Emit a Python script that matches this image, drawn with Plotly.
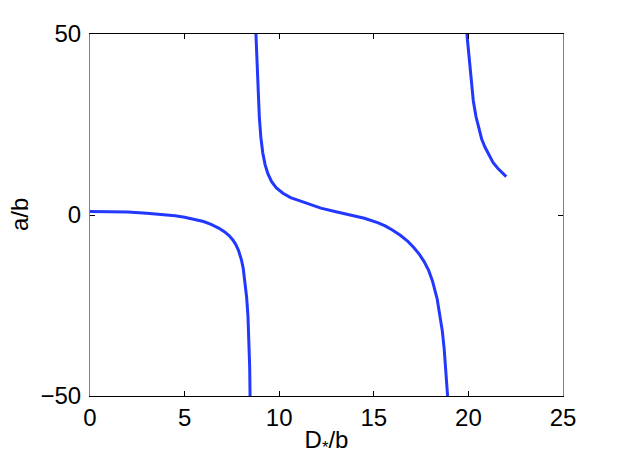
import plotly.graph_objects as go

# branch left of the first pole
x_b1 = [0, 1, 2, 3, 4, 4.5, 5, 5.5, 6, 6.4, 6.8, 7.1, 7.35, 7.55, 7.7, 7.85, 8.0, 8.1, 8.2, 8.28, 8.35, 8.4, 8.44, 8.46]
y_b1 = [1.0, 0.95, 0.8, 0.5, 0.1, -0.2, -0.6, -1.1, -1.8, -2.6, -3.6, -4.6, -5.7, -6.9, -8.1, -9.8, -12.3, -14.8, -18.5, -22.8, -28, -34, -42, -50]

# branch between the two poles
x_b2 = [8.77, 8.82, 8.88, 8.95, 9.03, 9.13, 9.25, 9.4, 9.6, 9.85, 10.2, 10.6, 11.1, 11.6, 12.2, 13.0, 13.8,
        14.5, 15.2, 15.6, 16.0, 16.4, 16.8, 17.1, 17.4, 17.65, 17.9, 18.1, 18.35, 18.5, 18.62, 18.72, 18.8, 18.86, 18.9]
y_b2 = [50, 42, 34, 27, 21.5, 17.2, 14.0, 11.4, 9.2, 7.5, 6.0, 4.8, 3.9, 3.0, 1.9, 0.9, 0,
        -0.9, -2.1, -3.0, -4.2, -5.6, -7.3, -8.9, -10.8, -12.8, -15.3, -18.2, -23.2, -27.5, -32, -37, -42, -46.5, -50]

# branch right of the second pole
x_b3 = [19.92, 20.0, 20.08, 20.17, 20.26, 20.4, 20.52, 20.7, 20.88, 21.1, 21.3, 21.55, 21.8, 22.0]
y_b3 = [50, 45.5, 41.9, 35.5, 31.5, 27.2, 24.4, 21.0, 18.7, 16.3, 14.5, 12.9, 11.6, 10.6]

x_ticks = [0, 5, 10, 15, 20, 25]
y_ticks = [-50, 0, 50]

LINE = '#2238ff'
FONT = dict(family='Liberation Sans, Arial, Helvetica, sans-serif', size=24, color='black')

fig = go.Figure()
for xs, ys in [(x_b1, y_b1), (x_b2, y_b2), (x_b3, y_b3)]:
    fig.add_trace(go.Scatter(x=xs, y=ys, mode='lines', line=dict(color=LINE, width=3), showlegend=False))

# page body adds 8px around the figure, so the figure is 8px smaller than the window
fig.update_layout(
    width=614, height=459,
    margin=dict(l=82, r=59, t=26, b=71),
    paper_bgcolor='white', plot_bgcolor='white',
    font=FONT,
    xaxis=dict(range=[0, 25], tickvals=x_ticks, ticks='inside', ticklen=5, tickcolor='black', automargin=False,
               showline=True, linecolor='black', linewidth=1, mirror='ticks', showgrid=False, zeroline=False,
               title=dict(text='D<sub>*</sub>/b', font=FONT, standoff=1)),
    yaxis=dict(range=[-50, 50], tickvals=y_ticks, ticktext=['\u221250', '0', '50'], ticks='inside', ticklen=5,
               tickcolor='black', showline=True, linecolor='#808080', linewidth=1, mirror='ticks', automargin=False,
               showgrid=False, zeroline=False, ticklabelstandoff=3),
)
fig.add_annotation(text='a/b', xref='paper', yref='paper', x=0, y=0.5, xanchor='center', yanchor='middle',
                   xshift=-71, textangle=-90, showarrow=False, font=FONT)

fig.write_html('out.html')
